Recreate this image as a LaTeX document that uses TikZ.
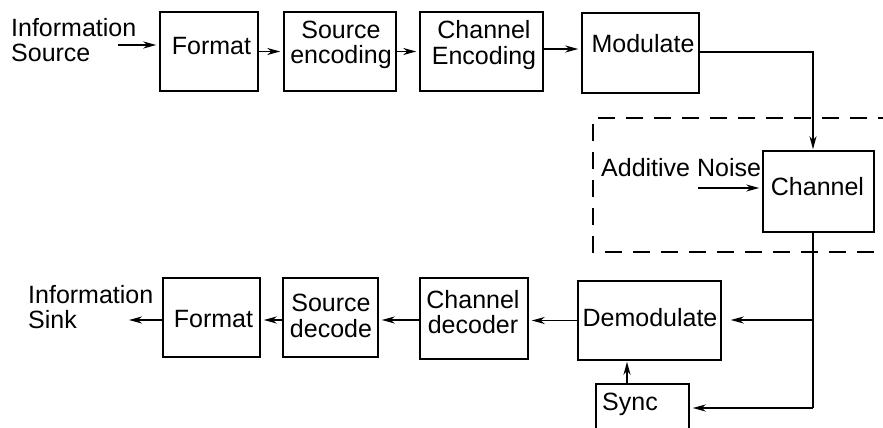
\documentclass[tikz,border=0pt]{standalone}
\usepackage{fontspec}
\setmainfont{Liberation Sans}
\usetikzlibrary{arrows.meta}

\begin{document}
\begin{tikzpicture}[x=1pt,y=-1pt,
    blk/.style={draw,line width=1.5pt,inner sep=0pt},
    lbl/.style={inner sep=0pt,align=center,font=\fontsize{25}{25.5}\selectfont},
    wire/.style={line width=1.3pt},
    arr/.style={wire,-{Stealth[length=13pt,width=7pt,inset=4pt]},shorten >=3pt}]
    \useasboundingbox (0,0) rectangle (883,428);
    % transmitter boxes
    \node[blk,minimum width=98,minimum height=79]  (fmtA)  at (209,51.5)   {};
    \node[blk,minimum width=112,minimum height=79] (seA)   at (340,51.5)   {};
    \node[blk,minimum width=123,minimum height=79] (ceA)   at (481.5,51.5) {};
    \node[blk,minimum width=117,minimum height=80] (modA)  at (640.5,53)   {};
    % channel
    \node[blk,minimum width=111,minimum height=81] (chA)   at (818.5,191.5) {};
    % receiver boxes
    \node[blk,minimum width=143,minimum height=79] (demod) at (649.5,320.5) {};
    \node[blk,minimum width=108,minimum height=81] (cdec)  at (474,318.5)   {};
    \node[blk,minimum width=95,minimum height=79]  (sdec)  at (330.5,317.5) {};
    \node[blk,minimum width=97,minimum height=79]  (fmtB)  at (211.5,317.5) {};
    \node[blk,minimum width=93,minimum height=72]  (sync)  at (642.5,420)   {};
    % texts
    \node[lbl,anchor=west,align=left] (srctxt)  at (11,40)   {Information\\Source};
    \node[lbl] (fmtAtxt) at (211.5,46) {Format};
    \node[lbl] (seAtxt)  at (341,45)   {Source\\encoding};
    \node[lbl] (ceAtxt)  at (484,45)   {Channel\\Encoding};
    \node[lbl] (modAtxt) at (643,44)   {Modulate};
    \node[lbl,anchor=west] (noisetxt) at (601,168) {Additive Noise};
    \node[lbl] (chAtxt)  at (817.5,187) {Channel};
    \node[lbl] (demodtxt) at (650,318) {Demodulate};
    \node[lbl] (cdectxt) at (473,312)  {Channel\\decoder};
    \node[lbl] (sdectxt) at (331,316)  {Source\\decode};
    \node[lbl] (fmtBtxt) at (213.5,319) {Format};
    \node[lbl,anchor=west,align=left] (sinktxt) at (28,307) {Information\\Sink};
    \node[lbl,anchor=west] (synctxt) at (602,404) {Sync};
    % noise region
    \draw[line width=1.5pt,dash pattern=on 17pt off 11pt]
        (895,118) -- (593,118) -- (593,252) -- (895,252);
    % free ends of the connectors
    \coordinate (srcout)  at (118,45);
    \coordinate (noisein) at (698,188);
    \coordinate (tapD)    at (813,320);
    \coordinate (tapS)    at (813,408);
    \coordinate (sinkin)  at (129,320);
    % transmitter chain
    \draw[arr] (srcout) -- (srcout -| fmtA.west);
    \draw[arr] (fmtA.east) -- (seA.west);
    \draw[arr] (seA.east) -- (ceA.west);
    \draw[arr] ([yshift=2.5]ceA.east) -- ([yshift=2.5]ceA.east -| modA.west);
    \draw[arr,shorten >=1pt] ([yshift=1]modA.east) -| ([xshift=-5.5]chA.north);
    \draw[arr] (noisein) -- (noisein -| chA.west);
    % receiver chain
    \draw[wire] ([xshift=-5.5]chA.south) -- (tapS);
    \draw[arr,shorten >=9pt] (tapD) -- (tapD -| demod.east);
    \draw[arr] (tapS) -- (tapS -| sync.east);
    \draw[arr,shorten >=1pt] ([xshift=-15.5]sync.north) -- ([xshift=-15.5]sync.north |- demod.south);
    \draw[arr] (demod.west) -- (demod.west -| cdec.east);
    \draw[arr] ([yshift=-1.5]cdec.west) -- ([yshift=-1.5]cdec.west -| sdec.east);
    \draw[arr] ([yshift=-2.5]sdec.west) -- ([yshift=-2.5]sdec.west -| fmtB.east);
    \draw[arr,shorten >=0pt] ([yshift=-2.5]fmtB.west) -- (sinkin);
\end{tikzpicture}
\end{document}
